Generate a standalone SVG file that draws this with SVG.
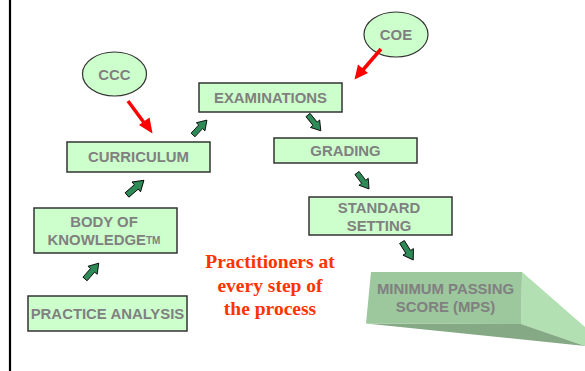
<svg xmlns="http://www.w3.org/2000/svg" xmlns:xlink="http://www.w3.org/1999/xlink" width="585" height="371" viewBox="0 0 585 371">
<style>
.box{fill:#ccffcc;stroke:#333;stroke-width:1.5}
.ell{fill:#ccffcc;stroke:#333;stroke-width:1.2}
.lbl{font-family:"Liberation Sans",Arial,sans-serif;font-weight:bold;font-size:14.9px;fill:#808080;text-anchor:middle}
.red{font-family:"Liberation Serif","Times New Roman",serif;font-weight:bold;font-size:19.5px;fill:#ff3300;text-anchor:middle}
.rl{stroke:#ff0000;stroke-width:3.5;fill:none}
.rh{fill:#ff0000}
</style>
<defs>
<path id="ga" d="M0,-2.6 L11,-2.6 L11,-5.8 L20,0 L11,5.8 L11,2.6 L0,2.6 Z" fill="#2e8b57" stroke="#000" stroke-width="0.8"/>
</defs>
<rect x="0" y="0" width="585" height="371" fill="#ffffff"/>
<line x1="10" y1="0" x2="10" y2="371" stroke="#000" stroke-width="2.2"/>

<g id="ccc"><ellipse class="ell" cx="114.5" cy="74" rx="32" ry="22"/><text class="lbl" x="114.5" y="80">CCC</text></g>
<g id="coe"><ellipse class="ell" cx="396" cy="34.5" rx="32" ry="22.5"/><text class="lbl" x="396" y="40">COE</text></g>
<g id="examinations"><rect class="box" x="199" y="83" width="143" height="29"/><text class="lbl" x="270.5" y="103">EXAMINATIONS</text></g>
<g id="curriculum"><rect class="box" x="67" y="142" width="143" height="30"/><text class="lbl" x="138.5" y="162">CURRICULUM</text></g>
<g id="grading"><rect class="box" x="274" y="138" width="143" height="25"/><text class="lbl" x="345.5" y="156">GRADING</text></g>
<g id="standard-setting"><rect class="box" x="309" y="197" width="143" height="38"/><text class="lbl" x="379" y="213">STANDARD</text><text class="lbl" x="379" y="231">SETTING</text></g>
<g id="body-of-knowledge"><rect class="box" x="34" y="208" width="143" height="45"/><text class="lbl" x="104" y="227">BODY OF</text><text class="lbl" x="104" y="245">KNOWLEDGE<tspan font-size="10px" dy="-1">TM</tspan></text></g>
<g id="practice-analysis"><rect class="box" x="28" y="296" width="159" height="35"/><text class="lbl" x="107.5" y="319">PRACTICE ANALYSIS</text></g>
<g id="mps">
<polygon points="522,272 585,327 585,346 521,324" fill="#b2e0b2"/>
<polygon points="366,323.5 521,324 585,346" fill="#85a885"/>
<polygon points="371,272 522,272 521,324 366,323.5" fill="#9dc79d"/>
<text class="lbl" x="445.5" y="294">MINIMUM PASSING</text>
<text class="lbl" x="445.5" y="312">SCORE (MPS)</text>
</g>
<g id="note"><text class="red" x="270" y="268">Practitioners at</text><text class="red" x="270" y="292">every step of</text><text class="red" x="270" y="315">the process</text></g>

<g id="connectors">
<line class="rl" x1="128" y1="101" x2="145" y2="124"/>
<polygon class="rh" points="152.5,133.5 139,125 149.5,117.5"/>
<line class="rl" x1="381" y1="49" x2="362" y2="71"/>
<polygon class="rh" points="354.5,79.5 358,64.5 368,73"/>
<use xlink:href="#ga" transform="translate(85,279) rotate(-49) scale(1.05)"/>
<use xlink:href="#ga" transform="translate(127,195) rotate(-41) scale(1.12)"/>
<use xlink:href="#ga" transform="translate(193,135) rotate(-47) scale(1.02)"/>
<use xlink:href="#ga" transform="translate(308,115) rotate(51) scale(1.02)"/>
<use xlink:href="#ga" transform="translate(357,173) rotate(53)"/>
<use xlink:href="#ga" transform="translate(402,242) rotate(58) scale(1.06)"/>
</g>
</svg>
